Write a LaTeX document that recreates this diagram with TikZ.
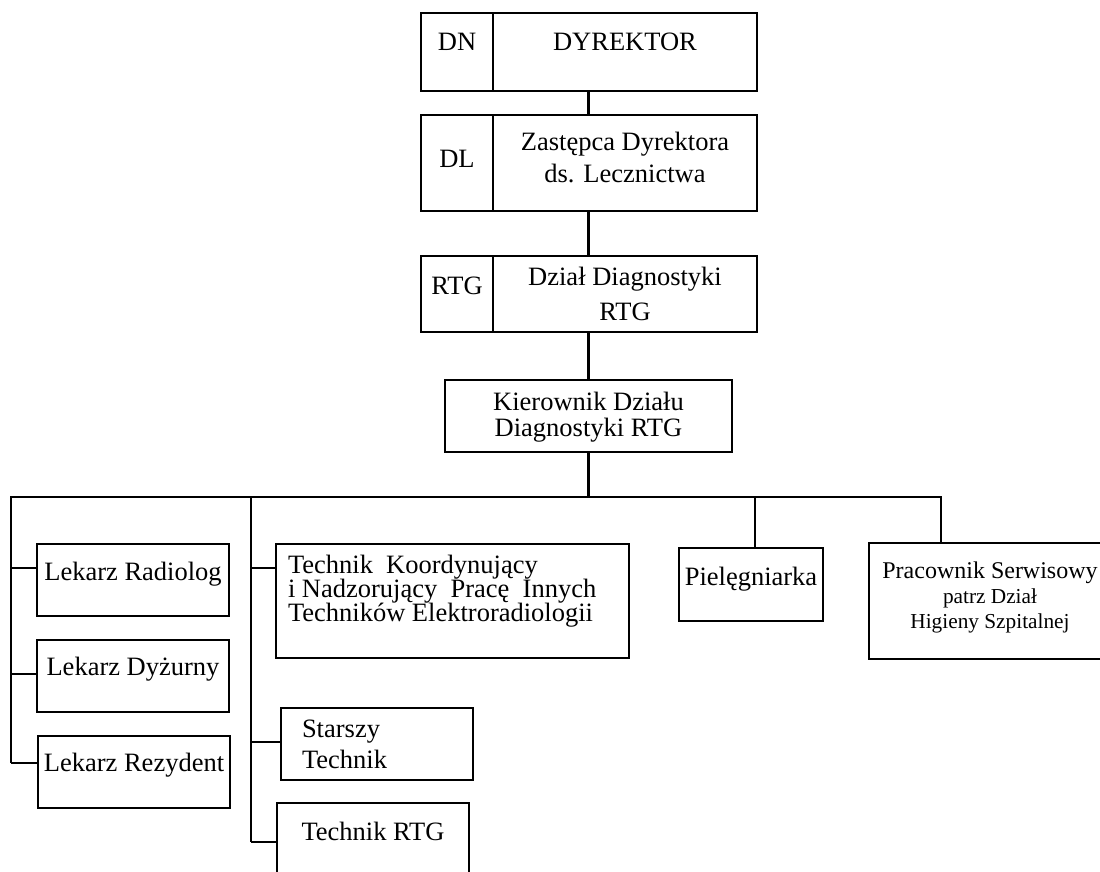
\documentclass[tikz,border=0pt]{standalone}
\usepackage{fontspec}
\setmainfont{Liberation Serif}
\usetikzlibrary{positioning}
\newcommand{\smalltxt}{\fontsize{21.3}{25}\selectfont}

\begin{document}
\begin{tikzpicture}[x=1pt,y=-1pt,line width=2.3pt,
        box/.style={shape=rectangle,draw=black,inner sep=0pt},
        txt/.style={inner sep=0pt,align=center,font=\fontsize{26.5}{25}\selectfont}]
            \useasboundingbox (0,0) rectangle (1100,871);

            % top of the chart
            \node[box,minimum width=72,minimum height=78] (DN) at (457,52) {};
            \node[box,minimum width=264,minimum height=78] (Dyr) at (625,52) {};
            \node[box,minimum width=72,minimum height=96] (DL) at (457,163) {};
            \node[box,minimum width=264,minimum height=96] (Zast) at (625,163) {};
            \node[box,minimum width=72,minimum height=76] (RTG) at (457,294) {};
            \node[box,minimum width=264,minimum height=76] (Dzial) at (625,294) {};
            \node[box,minimum width=287,minimum height=72] (Kier) at (588.5,416) {};

            \node[txt,below=20pt of DN.north] (DNt) {DN};
            \node[txt,below=20pt of Dyr.north] (Dyrt) {DYREKTOR};
            \node[txt,below=35pt of DL.north] (DLt) {DL};
            \node[txt,below=17pt of Zast.north] (Zastt) {Zastępca Dyrektora\\[7pt]ds. Lecznictwa};
            \node[txt,below=21pt of RTG.north] (RTGt) {RTG};
            \node[txt,below=11pt of Dzial.north] (Dzialt) {Dział Diagnostyki\\[10pt]RTG};
            \node[txt,below=12pt of Kier.north] (Kiert) {Kierownik Działu\\[1pt]Diagnostyki RTG};

            % staff
            \node[box,minimum width=192,minimum height=72] (Rad) at (133,580) {};
            \node[box,minimum width=192,minimum height=72] (Dyz) at (133,676) {};
            \node[box,minimum width=192,minimum height=72] (Rez) at (134,772) {};
            \node[box,minimum width=353,minimum height=114] (Koord) at (452.5,601) {};
            \node[box,minimum width=192,minimum height=72] (Star) at (377,744) {};
            \node[box,minimum width=192,minimum height=72] (TRTG) at (373,839) {};
            \node[box,minimum width=144,minimum height=73] (Piel) at (751,584.5) {};
            \node[box,minimum width=242,minimum height=116] (Prac) at (990,601) {};

            \node[txt,below=18pt of Rad.north] (Radt) {Lekarz Radiolog};
            \node[txt,below=17pt of Dyz.north] (Dyzt) {Lekarz Dyżurny};
            \node[txt,below=17pt of Rez.north] (Rezt) {Lekarz Rezydent};
            \node[txt,align=left,below right=11pt and 12pt of Koord.north west] (Koordt)
                {Technik\ \ Koordynujący\\[-1pt]i Nadzorujący\ \ Pracę\ \ Innych\\[-1pt]Techników Elektroradiologii};
            \node[txt,align=left,below right=12pt and 21pt of Star.north west] (Start) {Starszy\\[6pt]Technik};
            \node[txt,below=19pt of TRTG.north] (TRTGt) {Technik RTG};
            \node[txt,below=19pt of Piel.north] (Pielt) {Pielęgniarka};
            \node[txt,font=\fontsize{24}{25}\selectfont,below=19pt of Prac.north] (Pract)
                {Pracownik Serwisowy\\{\smalltxt patrz Dział}\\{\smalltxt Higieny Szpitalnej}};

            % connectors
            \coordinate (busL) at (11,497);
            \coordinate (busM) at (251,497);
            \coordinate (busP) at (755,497);
            \coordinate (busR) at (941,497);
            \coordinate (tapA) at (11,568);
            \coordinate (tapB) at (11,674);
            \coordinate (tapC) at (11,763);
            \coordinate (tapD) at (251,568);
            \coordinate (tapE) at (251,742);
            \coordinate (tapF) at (251,842);

            \draw (Kier.north |- Dyr.south) -- (Kier.north |- Zast.north);
            \draw (Kier.north |- Zast.south) -- (Kier.north |- Dzial.north);
            \draw (Kier.north |- Dzial.south) -- (Kier.north);
            \draw (Kier.south) -- (Kier.south |- busL);
            \draw (tapC) -- (busL) -- (busR) -- (busR |- Prac.north);
            \draw (busM) -- (tapF);
            \draw (busP) -- (busP |- Piel.north);
            \draw (tapA) -- (tapA -| Rad.west);
            \draw (tapB) -- (tapB -| Dyz.west);
            \draw (tapC) -- (tapC -| Rez.west);
            \draw (tapD) -- (tapD -| Koord.west);
            \draw (tapE) -- (tapE -| Star.west);
            \draw (tapF) -- (tapF -| TRTG.west);

        \end{tikzpicture}
\end{document}
